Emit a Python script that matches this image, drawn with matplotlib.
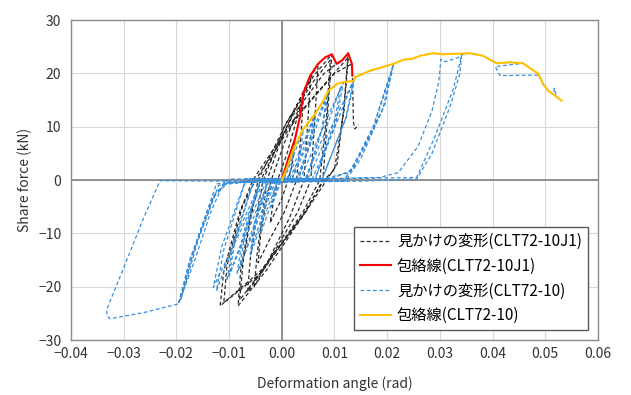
import numpy as np
import matplotlib
matplotlib.use("Agg")
import matplotlib.pyplot as plt

plt.rcParams['font.family'] = ['Noto Sans CJK JP', 'DejaVu Sans']

# apparent deformation, CLT72-10J1 (black dashed)
j1_loop = [
    (0.0, 0.0), (0.0012, 3.9), (0.0022, 6.5), (0.0025, 7.5),
    (0.0020, 3.0), (0.0012, 0.0), (0.0, -3.5), (-0.0015, -6.5), (-0.0022, -8.0),
    (-0.0016, -4.0), (-0.0008, 0.0), (0.0010, 5.0), (0.0030, 12.0), (0.0041, 15.5),
    (0.0036, 8.0), (0.0028, 0.0), (0.0005, -6.0), (-0.0025, -11.5), (-0.0045, -15.5),
    (-0.0040, -10.0), (-0.0028, -3.0), (-0.0020, 0.0), (0.0005, 7.0), (0.0035, 14.0), (0.0055, 19.5),
    (0.0050, 12.0), (0.0042, 0.0), (0.0015, -7.0), (-0.0025, -15.0), (-0.0052, -20.0),
    (-0.0047, -14.0), (-0.0035, -5.0), (-0.0028, 0.0), (0.0000, 8.0), (0.0045, 17.5), (0.0069, 21.8),
    (0.0063, 12.0), (0.0055, 0.0), (0.0030, -6.0), (-0.0030, -16.0), (-0.0065, -21.0),
    (-0.0060, -15.0), (-0.0045, -5.0), (-0.0035, 0.0), (0.0005, 10.0), (0.0060, 19.5), (0.0095, 23.6),
    (0.0088, 14.0), (0.0078, 0.0), (0.0045, -6.0), (-0.0030, -17.0), (-0.0083, -23.6),
    (-0.0078, -17.0), (-0.0060, -7.0), (-0.0045, 0.0), (0.0010, 11.0), (0.0060, 18.5), (0.0092, 22.5),
    (0.0085, 12.0), (0.0072, 0.0), (0.0040, -6.0), (-0.0030, -16.0), (-0.0080, -22.5),
    (-0.0073, -15.0), (-0.0055, -5.0), (-0.0040, 0.0), (0.0020, 12.0), (0.0080, 20.0),
    (0.0104, 21.8), (0.0114, 22.4), (0.0126, 23.8),
    (0.0118, 14.0), (0.0105, 3.0), (0.0085, 0.0), (0.0045, -6.0), (-0.0040, -17.0), (-0.0117, -23.6),
    (-0.0110, -17.0), (-0.0080, -6.0), (-0.0055, 0.0), (0.0020, 11.0), (0.0090, 19.0), (0.0126, 23.0),
    (0.0118, 13.0), (0.0100, 2.0), (0.0080, 0.0), (0.0040, -6.5), (-0.0040, -17.5), (-0.0110, -23.0),
    (-0.0104, -16.0), (-0.0075, -5.0), (-0.0050, 0.0), (0.0030, 12.0), (0.0100, 20.0), (0.0133, 21.8),
    (0.0134, 19.6), (0.0136, 10.8), (0.0139, 9.6), (0.0145, 10.5),
]

# envelope, CLT72-10J1 (red)
j1_env = [
    (0.0, 0.0), (0.0012, 3.9), (0.0025, 7.7), (0.0035, 12.1), (0.0041, 16.4),
    (0.0054, 19.6), (0.0069, 21.8), (0.0082, 23.0), (0.0095, 23.6), (0.0104, 21.8),
    (0.0114, 22.4), (0.0126, 23.8), (0.0133, 21.8), (0.0134, 19.6),
]

# apparent deformation, CLT72-10 (blue dashed)
c10_loop = [
    (0.0, 0.0),
    (0.0003, 0.2), (0.0012, 2.5), (0.0022, 5.5), (0.0018, 2.5), (0.0010, -0.2),
    (-0.0002, -0.3), (-0.0010, -2.5), (-0.0020, -5.0), (-0.0016, -2.5), (-0.0008, 0.2),
    (0.0005, 0.3), (0.0022, 4.5), (0.0041, 9.6), (0.0035, 5.0), (0.0018, -0.2),
    (-0.0004, -0.3), (-0.0020, -4.5), (-0.0040, -10.0), (-0.0034, -5.0), (-0.0016, 0.2),
    (0.0010, 0.3), (0.0035, 5.5), (0.0063, 12.4), (0.0055, 7.0), (0.0030, -0.2),
    (-0.0008, -0.3), (-0.0030, -6.0), (-0.0060, -14.0), (-0.0052, -8.0), (-0.0025, 0.2),
    (0.0015, 0.3), (0.0038, 5.0), (0.0060, 11.5), (0.0053, 7.0), (0.0030, -0.2),
    (-0.0012, -0.3), (-0.0033, -5.5), (-0.0058, -13.0), (-0.0050, -8.0), (-0.0025, 0.2),
    (0.0020, 0.3), (0.0052, 7.5), (0.0088, 16.7), (0.0078, 10.0), (0.0045, -0.2),
    (-0.0015, -0.3), (-0.0045, -7.5), (-0.0085, -17.5), (-0.0073, -10.0), (-0.0040, 0.2),
    (0.0028, 0.3), (0.0055, 7.0), (0.0085, 15.5), (0.0076, 9.5), (0.0045, -0.2),
    (-0.0020, -0.3), (-0.0048, -7.0), (-0.0080, -16.5), (-0.0070, -10.0), (-0.0040, 0.2),
    (0.0035, 0.3), (0.0072, 8.5), (0.0117, 18.4), (0.0103, 11.0), (0.0062, -0.2),
    (-0.0025, -0.3), (-0.0060, -8.5), (-0.0104, -18.6), (-0.0090, -11.0), (-0.0052, 0.2),
    (0.0045, 0.3), (0.0078, 8.0), (0.0112, 17.5), (0.0100, 11.0), (0.0062, -0.2),
    (-0.0030, -0.3), (-0.0063, -8.0), (-0.0100, -18.0), (-0.0088, -11.0), (-0.0052, 0.2),
    (0.0050, 0.3), (0.0092, 9.5), (0.0139, 19.3), (0.0123, 12.0), (0.0075, -0.2),
    (-0.0035, -0.3), (-0.0078, -9.5), (-0.0130, -20.1), (-0.0114, -12.5), (-0.0068, 0.2),
    (0.0058, 0.3), (0.0097, 9.0), (0.0136, 18.6), (0.0121, 11.5), (0.0075, -0.2),
    (-0.0040, -0.3), (-0.0082, -9.5), (-0.0124, -20.8), (-0.0110, -13.0), (-0.0068, 0.2),
    (0.0080, 0.3), (0.0129, 1.4), (0.0174, 10.2), (0.0212, 21.8), (0.0195, 14.0),
    (0.0155, 5.8), (0.0117, -0.2),
    (-0.0060, -0.3), (-0.0124, -0.7), (-0.0160, -11.0), (-0.0196, -23.2), (-0.0175, -15.0),
    (-0.0130, -3.0), (-0.0101, 0.2),
    (0.0095, 0.3), (0.0135, 2.0), (0.0175, 10.0), (0.0210, 21.0), (0.0192, 13.5),
    (0.0150, 4.0), (0.0120, -0.2),
    (-0.0070, -0.3), (-0.0120, -1.0), (-0.0158, -11.0), (-0.0192, -22.5), (-0.0172, -14.5),
    (-0.0128, -3.0), (-0.0101, -0.4),
    (-0.0050, -0.2), (0.0100, 0.3), (0.0186, 0.5), (0.0221, 1.4), (0.0259, 6.4),
    (0.0285, 13.0), (0.0298, 18.5), (0.0302, 22.7), (0.0310, 22.2), (0.0335, 23.0),
    (0.0341, 23.4), (0.0338, 20.0), (0.0320, 14.0), (0.0285, 5.0), (0.0256, 0.2),
    (0.0150, -0.2), (-0.0110, -0.5), (-0.0135, -6.0), (-0.0165, -15.0), (-0.0196, -23.2),
    (-0.0260, -24.8), (-0.0310, -25.7), (-0.0326, -26.0), (-0.0332, -25.4), (-0.0332, -24.2),
    (-0.0301, -16.7), (-0.0263, -7.3), (-0.0231, -0.1),
    (-0.0100, -0.2), (0.0000, 0.0), (0.0120, 0.3), (0.0256, 0.5), (0.0290, 8.0),
    (0.0325, 17.0), (0.0338, 22.0), (0.0341, 23.5), (0.0357, 23.8), (0.0382, 23.3),
    (0.0408, 21.9), (0.0433, 22.1), (0.0458, 21.9), (0.0405, 21.3), (0.0414, 19.6),
    (0.0487, 19.7), (0.0496, 18.0), (0.0506, 16.7), (0.0515, 16.1), (0.0517, 17.2),
    (0.0522, 15.5),
]

# envelope, CLT72-10 (yellow)
c10_env = [
    (0.0, 0.0), (0.0009, 2.1), (0.0022, 5.8), (0.0041, 9.6), (0.0063, 12.4),
    (0.0079, 14.9), (0.0088, 16.7), (0.0104, 18.0), (0.0117, 18.4), (0.0136, 18.6),
    (0.0139, 19.3), (0.0167, 20.5), (0.0212, 21.8), (0.0231, 22.6), (0.0246, 22.7),
    (0.0262, 23.3), (0.0287, 23.8), (0.0306, 23.6), (0.0357, 23.8), (0.0382, 23.3),
    (0.0408, 21.9), (0.0433, 22.1), (0.0458, 21.9), (0.0487, 19.9), (0.0496, 18.0),
    (0.0506, 16.7), (0.0515, 16.1), (0.0531, 14.9),
]

labels = ['見かけの変形(CLT72-10J1)', '包絡線(CLT72-10J1)',
          '見かけの変形(CLT72-10)', '包絡線(CLT72-10)']

x_ticks = [-0.04, -0.03, -0.02, -0.01, 0.0, 0.01, 0.02, 0.03, 0.04, 0.05, 0.06]
x_tick_labels = ['\u22120.04', '\u22120.03', '\u22120.02', '\u22120.01', '0.00',
                 '0.01', '0.02', '0.03', '0.04', '0.05', '0.06']
y_ticks = [-30, -20, -10, 0, 10, 20, 30]
y_tick_labels = ['\u221230', '\u221220', '\u221210', '0', '10', '20', '30']

fig = plt.figure(figsize=(6.31, 3.95), dpi=100)
ax = fig.add_axes([0.1125, 0.139, 0.8352, 0.810])

ax.axhline(0, color='#808080', lw=1.2, zorder=1)
ax.axvline(0, color='#808080', lw=1.2, zorder=1)

x, y = np.array(j1_loop).T
ax.plot(x, y, color='#2b2b2b', lw=0.9, ls=(0, (3, 2)), label=labels[0], zorder=2)
x, y = np.array(j1_env).T
ax.plot(x, y, color='#ff0000', lw=1.5, label=labels[1], zorder=3)
x, y = np.array(c10_loop).T
ax.plot(x, y, color='#3b8fd9', lw=0.9, ls=(0, (3, 2)), label=labels[2], zorder=4)
x, y = np.array(c10_env).T
ax.plot(x, y, color='#ffc000', lw=1.5, label=labels[3], zorder=5)

ax.set_xlim(-0.04, 0.06)
ax.set_ylim(-30, 30)
ax.set_xticks(x_ticks, x_tick_labels)
ax.set_yticks(y_ticks, y_tick_labels)
ax.tick_params(length=0, labelsize=10, colors='#333333')
ax.tick_params(axis='y', pad=7)
ax.tick_params(axis='x', pad=5)
ax.grid(color='#d9d9d9', lw=0.8, zorder=0)
ax.set_axisbelow(True)
for s in ax.spines.values():
    s.set_color('#8c8c8c')
    s.set_linewidth(1.0)

ax.set_xlabel('Deformation angle (rad)', fontsize=10, color='#333333', labelpad=11)
ax.set_ylabel('Share force (kN)', fontsize=10, color='#333333', labelpad=4)

leg = ax.legend(loc='lower right', bbox_to_anchor=(0.981, 0.031), borderaxespad=0,
                fontsize=11, handlelength=2.0, labelspacing=0.5, handletextpad=0.4,
                borderpad=0.4, fancybox=False, framealpha=1, edgecolor='#595959')
leg.get_frame().set_linewidth(1.0)

fig.savefig('out.png', dpi=100)
